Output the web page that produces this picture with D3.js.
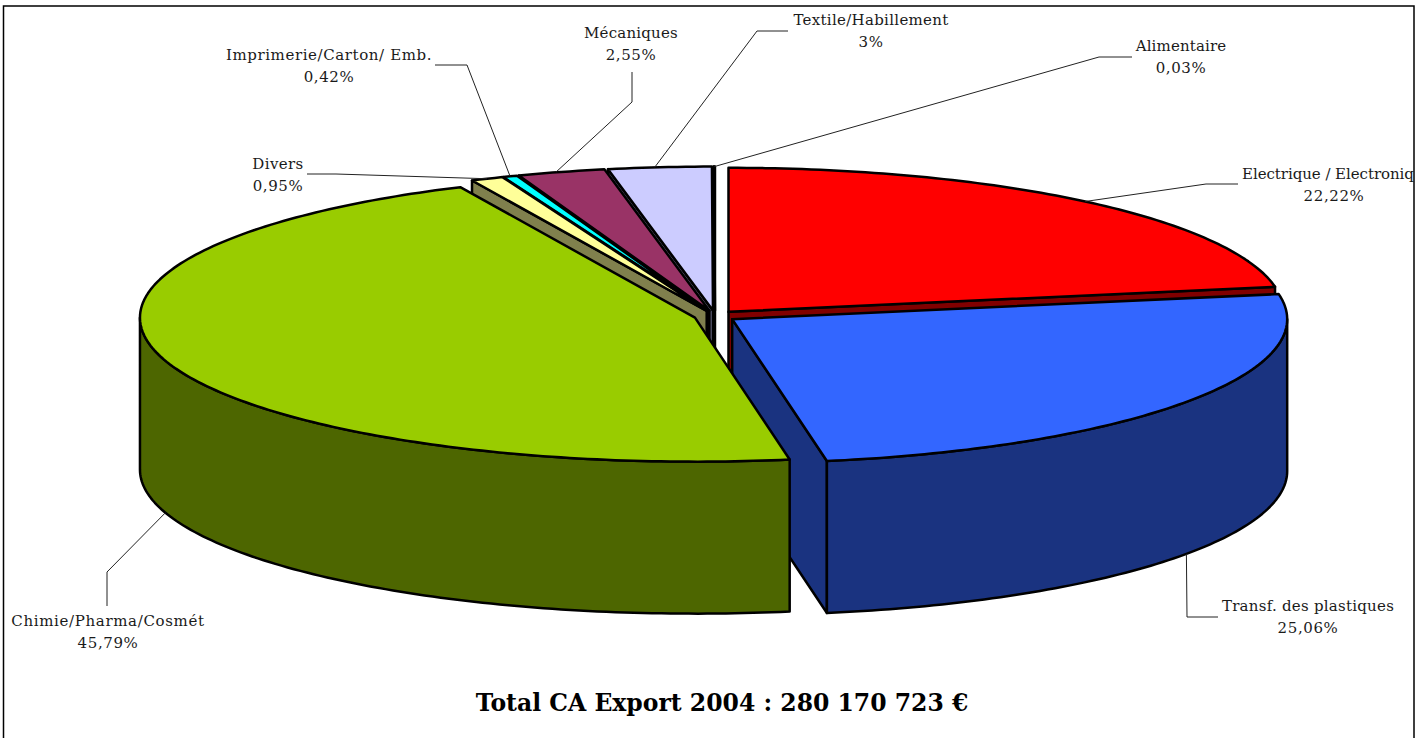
<!DOCTYPE html>
<html>
<head>
<meta charset="utf-8">
<script src="https://cdnjs.cloudflare.com/ajax/libs/d3/7.8.5/d3.min.js"></script>
<style>
html,body{margin:0;padding:0;background:#fff;overflow:hidden}
text{font-family:"DejaVu Serif",serif;fill:#1a1a1a}
</style>
</head>
<body>
<svg id="chart" width="1415" height="738"></svg>
<script>
const categories=['Electrique / Electronique','Transf. des plastiques','Chimie/Pharma/Cosmét','Divers','Imprimerie/Carton/ Emb.','Mécaniques','Textile/Habillement','Alimentaire']
const values=[22.22,25.06,45.79,0.95,0.42,2.55,3,0.03]
const valueLabels=['22,22%','25,06%','45,79%','0,95%','0,42%','2,55%','3%','0,03%']
const topColors=['#ff0000','#3366ff','#99cc00','#ffff99','#00ffff','#993366','#ccccff','#ffffff']
const title='Total CA Export 2004 : 280 170 723 €'

// pie geometry
const cx=715, cy=316, rx=555, ry=144, depth=152, explode=21
const k=ry/rx

// where the leaders bend and where the labels sit, by category index
const elbows=[[[1206,184],[1238,184]],[[1187,617],[1218,617]],[[107,572],[107,606]],[[336,174],[307,174]],[[467,65],[435,65]],[[632,102],[632,72]],[[757,31],[788,31]],[[1099,57],[1132,57]]]
const leadShift=[0,0,0,0,0,-5,-5,0]
const labelPos=[[1334,179],[1308,611],[108,626],[278,169],[329,60],[631,38],[871,25],[1181,51]]
const labelSpacing=[-0.05,0.25,0.65,0.4,0.6,0.2,0.3,0.15]

const svg=d3.select('#chart')
svg.append('clipPath').attr('id','frame').append('rect').attr('x',3).attr('y',6).attr('width',1411).attr('height',732)

const x=d3.scaleLinear().domain([-1,1]).range([-rx,rx])
const y=d3.scaleLinear().domain([-1,1]).range([-ry,ry])
const line=d3.line()
const pie=d3.pie().sort(null).value(d=>d)
const arcs=pie(values)

arcs.forEach(a=>{
	const mid=(a.startAngle+a.endAngle)/2
	a.mid=mid
	a.ax=cx+explode*Math.sin(mid)
	a.ay=cy-explode*k*Math.cos(mid)
})
function rim(a,t,dz=0){
	return [a.ax+x(Math.sin(t)),a.ay-y(Math.cos(t))+dz]
}
function sweep(a,t0,t1,dz=0){
	const n=Math.max(2,Math.ceil(Math.abs(t1-t0)*60))
	return d3.range(n+1).map(i=>rim(a,t0+(t1-t0)*i/n,dz))
}
function dark(c){
	const r=d3.rgb(c)
	return d3.rgb(r.r/2,r.g/2,r.b/2).formatHex()
}

// back slices first, blue then green last
const order=[7,6,5,4,3,0,1,2]
const g=svg.append('g').attr('stroke','#000').attr('stroke-width',2.5).attr('stroke-linejoin','round')
order.forEach(i=>{
	const a=arcs[i], s=g.append('g')
	const col=topColors[i], wall=dark(col)
	const A=[a.ax,a.ay]
	// cut faces: only the ones turned to the viewer
	const cuts=[]
	if(a.startAngle>Math.PI) cuts.push(a.startAngle)
	if(a.endAngle<Math.PI) cuts.push(a.endAngle)
	for(const t of cuts){
		const p=rim(a,t)
		s.append('path').attr('fill',wall)
			.attr('d',line([A,p,[p[0],p[1]+depth],[A[0],A[1]+depth]])+'Z')
	}
	// outer wall, only the part facing the viewer
	const t0=Math.max(a.startAngle,Math.PI/2), t1=Math.min(a.endAngle,Math.PI*1.5)
	if(t1>t0){
		s.append('path').attr('fill',wall)
			.attr('d',line(sweep(a,t0,t1).concat(sweep(a,t1,t0,depth)))+'Z')
	}
	s.append('path').attr('fill',col)
		.attr('d',line([A].concat(sweep(a,a.startAngle,a.endAngle)))+'Z')
})

// leaders
const lead=svg.append('g').attr('fill','none').attr('stroke','#222').attr('stroke-width',1)
arcs.forEach((a,i)=>{
	const front=a.mid>Math.PI/2 && a.mid<Math.PI*1.5
	const start=rim(a,a.mid,front?depth:0)
	start[0]+=leadShift[i]
	lead.append('path').attr('d',line([start].concat(elbows[i])))
})

const lab=svg.append('g').attr('clip-path','url(#frame)').attr('text-anchor','middle').attr('font-size',15).attr('letter-spacing',0.6)
categories.forEach((c,i)=>{
	const t=lab.append('text').attr('x',labelPos[i][0]).attr('y',labelPos[i][1])
	const first=t.append('tspan').attr('x',labelPos[i][0]).attr('letter-spacing',labelSpacing[i]).text(c)
	// the first label runs past the frame, so it is set from its left end
	if(i==0) first.attr('x',1242).attr('text-anchor','start')
	t.append('tspan').attr('x',labelPos[i][0]).attr('dy',22).text(valueLabels[i])
})

svg.append('text').attr('x',722).attr('y',711).attr('text-anchor','middle')
	.attr('font-size',23.5).attr('font-weight','bold').style('fill','#000').text(title)

// frame
svg.append('path').attr('fill','none').attr('stroke','#000').attr('stroke-width',1.5)
	.attr('d',line([[3.5,738],[3.5,6],[1414,6],[1414,738]]))
</script>
</body>
</html>
